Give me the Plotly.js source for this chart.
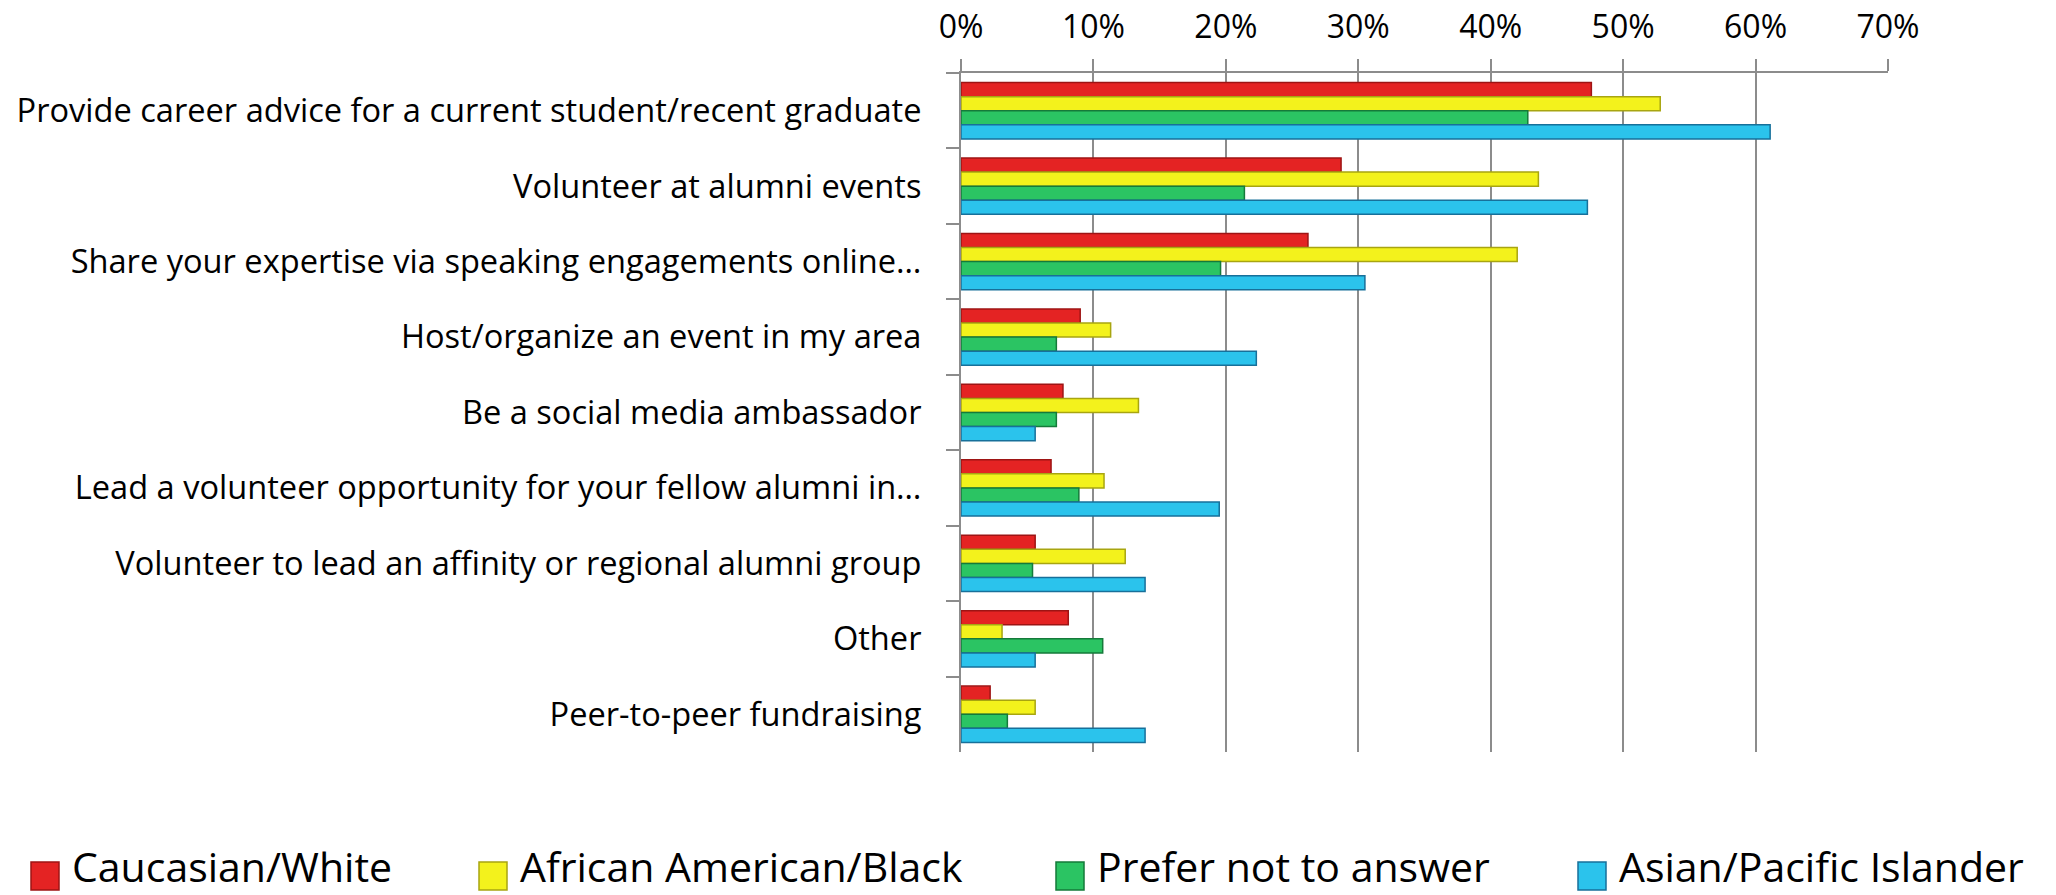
<!DOCTYPE html>
<html>
<head>
<meta charset="utf-8">
<script src="https://cdn.plot.ly/plotly-3.0.1.min.js"></script>
<style>
html,body{margin:0;padding:0;background:#fff;}
#chart{width:2056px;height:895px;}
</style>
</head>
<body>
<div id="chart"></div>
<script>
var categories = [
  "Provide career advice for a current student/recent graduate",
  "Volunteer at alumni events",
  "Share your expertise via speaking engagements online\u2026",
  "Host/organize an event in my area",
  "Be a social media ambassador",
  "Lead a volunteer opportunity for your fellow alumni in\u2026",
  "Volunteer to lead an affinity or regional alumni group",
  "Other",
  "Peer-to-peer fundraising"
];
var seriesNames = ["Caucasian/White", "African American/Black", "Prefer not to answer", "Asian/Pacific Islander"];
var caucasianWhite = [47.6, 28.7, 26.2, 9.0, 7.7, 6.8, 5.6, 8.1, 2.2];
var africanAmericanBlack = [52.8, 43.6, 42.0, 11.3, 13.4, 10.8, 12.4, 3.1, 5.6];
var preferNotToAnswer = [42.8, 21.4, 19.6, 7.2, 7.2, 8.9, 5.4, 10.7, 3.5];
var asianPacificIslander = [61.1, 47.3, 30.5, 22.3, 5.6, 19.5, 13.9, 5.6, 13.9];
var xTickValues = [0, 10, 20, 30, 40, 50, 60, 70];
var xTickLabels = ["0%", "10%", "20%", "30%", "40%", "50%", "60%", "70%"];

var seriesValues = [caucasianWhite, africanAmericanBlack, preferNotToAnswer, asianPacificIslander];
var fills = ["#E42323", "#F3F21C", "#2BC463", "#2BC3EC"];
var edges = ["#9E1414", "#A8A510", "#157A3A", "#17709A"];

var FONT = "Open Sans, Liberation Sans, Arial, sans-serif";

// plot-area geometry (pixels)
var W = 2056, H = 895;
var M = { l: 961, r: 168, t: 73, b: 143 };
var PW = W - M.l - M.r, PH = H - M.t - M.b;
function paperX(px) { return (px - M.l) / PW; }
function paperY(py) { return (H - M.b - py) / PH; }

// legend layout (text left edge in px, text row centre and swatch centre in px)
var legendTextLeft = [72, 520, 1097, 1619];
var legendTextY = 866;
var legendSwatchY = 876;

var traces = seriesValues.map(function (vals, i) {
  return {
    type: "bar",
    orientation: "h",
    name: seriesNames[i],
    x: vals,
    y: categories,
    showlegend: false,
    marker: { color: fills[i], line: { color: edges[i], width: 1.5 } },
    hoverinfo: "x+name"
  };
});

var annotations = seriesNames.map(function (name, i) {
  return {
    text: name,
    xref: "paper", yref: "paper",
    x: paperX(legendTextLeft[i] - 2), y: paperY(legendTextY),
    xanchor: "left", yanchor: "middle",
    showarrow: false,
    font: { family: FONT, size: 41, color: "#000000" }
  };
});

var shapes = seriesNames.map(function (name, i) {
  return {
    type: "rect",
    xref: "paper", yref: "paper",
    x0: paperX(legendTextLeft[i] - 41), x1: paperX(legendTextLeft[i] - 13),
    y0: paperY(legendSwatchY + 14), y1: paperY(legendSwatchY - 14),
    fillcolor: fills[i],
    line: { color: edges[i], width: 1.5 }
  };
});

var layout = {
  width: W,
  height: H,
  paper_bgcolor: "#ffffff",
  plot_bgcolor: "#ffffff",
  margin: { l: M.l, r: M.r, t: M.t, b: M.b, pad: 0, autoexpand: false },
  barmode: "group",
  bargap: 0.253,
  bargroupgap: 0,
  showlegend: false,
  font: { family: FONT, color: "#000000", size: 32 },
  xaxis: {
    side: "top",
    range: [0, 70],
    tickmode: "array",
    tickvals: xTickValues,
    ticktext: xTickLabels,
    showgrid: true,
    gridcolor: "#8C8C8C",
    gridwidth: 2,
    zeroline: false,
    showline: true,
    linecolor: "#8C8C8C",
    linewidth: 2,
    ticks: "outside",
    ticklen: 12,
    tickwidth: 2,
    tickcolor: "#8C8C8C",
    ticklabelstandoff: 8,
    tickfont: { family: FONT, size: 32, color: "#000000" },
    fixedrange: true
  },
  yaxis: {
    type: "category",
    autorange: "reversed",
    showgrid: false,
    zeroline: false,
    showline: true,
    linecolor: "#8C8C8C",
    linewidth: 2,
    ticks: "outside",
    tickson: "boundaries",
    ticklen: 13,
    tickwidth: 2,
    tickcolor: "#8C8C8C",
    ticklabelstandoff: 31,
    tickfont: { family: FONT, size: 32.6, color: "#000000" },
    fixedrange: true
  },
  annotations: annotations,
  shapes: shapes
};

Plotly.newPlot("chart", traces, layout, { displayModeBar: false });
</script>
</body>
</html>
